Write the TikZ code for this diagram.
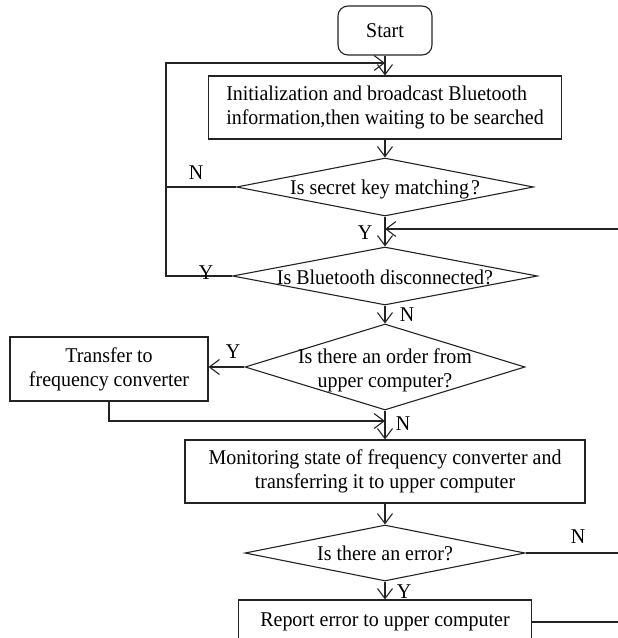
\documentclass[tikz,border=0pt]{standalone}
\usepackage{fontspec}
\setmainfont{Liberation Serif}[FakeStretch=0.95]
\usetikzlibrary{shapes.geometric,arrows.meta}
\definecolor{ln}{RGB}{35,35,35}
\tikzset{
  base/.style={font=\fontsize{21}{24}\selectfont},
  box/.style={base,draw=ln,line width=1.1pt,rectangle,inner sep=0pt,align=center},
  startbox/.style={box,rounded corners=10pt},
  dia/.style={draw=ln,line width=1.1pt,diamond,inner sep=0pt},
  txt/.style={base,align=center,inner sep=0pt},
  lab/.style={base,inner sep=0pt},
  conn/.style={draw=ln,line width=1.1pt},
  arr/.style={conn,-{Straight Barb[length=10pt,width=15pt,line width=1.1pt]}}
}
\begin{document}
\begin{tikzpicture}[x=1pt,y=-1pt]
\useasboundingbox (0,0) rectangle (618,638);
\clip (0,0) rectangle (618,638);
% nodes
\node[startbox,minimum width=94pt,minimum height=49pt] (start) at (385,30.5) {Start};
\node[box,minimum width=353pt,minimum height=63pt,align=left] (init) at (385,107.5) {Initialization and broadcast Bluetooth\\information,then waiting to be searched};
\node[dia,minimum width=297pt,minimum height=58pt] (d1) at (385,187) {};
\node[txt] (t1) at (385,189) {Is secret key matching\kern2pt?};
\node[dia,minimum width=305pt,minimum height=58pt] (d2) at (385,276) {};
\node[txt] (t2) at (385,277) {Is Bluetooth disconnected?};
\node[dia,minimum width=280pt,minimum height=86pt] (d3) at (385,367) {};
\node[txt] (t3) at (385,370) {Is there an order from\\upper computer?};
\node[box,minimum width=198pt,minimum height=64pt] (trans) at (109,369) {Transfer to\\frequency converter};
\node[box,minimum width=400pt,minimum height=63pt] (mon) at (385,471.5) {Monitoring state of frequency converter and\\transferring it to upper computer};
\node[dia,minimum width=280pt,minimum height=56pt] (d4) at (385,553) {};
\node[txt] (t4) at (385,553) {Is there an error?};
\node[box,minimum width=293pt,minimum height=44pt] (rep) at (385,622) {Report error to upper computer};
% coordinates
\coordinate (lx1) at (166,187);
\coordinate (ltop) at (166,63);
\coordinate (ljoin) at (385,63);
\coordinate (rin) at (618,229);
\coordinate (rjoin) at (385,229);
\coordinate (mjoin) at (385,421);
\coordinate (rout1) at (618,553);
\coordinate (rout2) at (618,622);
% connectors
\draw[arr] (start) -- (init);
\draw[arr] (init) -- (d1);
\draw[conn] (d1.west) -- (lx1);
\draw[arr] (d2.west) -| (ltop) -- (ljoin);
\draw[arr] (d1) -- (d2);
\draw[arr] (rin) -- (rjoin);
\draw[arr] (d2) -- (d3);
\draw[arr] (d3.west) -- (d3.west -| trans.east);
\draw[arr] (trans.south) |- (mjoin);
\draw[arr] (d3) -- (mon);
\draw[arr] (mon) -- (d4);
\draw[conn] (d4.east) -- (rout1);
\draw[arr] (d4) -- (rep);
\draw[conn] (rep.east) -- (rout2);
% edge labels
\node[lab] (n1) at (196,173) {N};
\node[lab] (y1) at (365,233) {Y};
\node[lab] (y2) at (206,273) {Y};
\node[lab] (n2) at (407,315) {N};
\node[lab] (y3) at (233,352) {Y};
\node[lab] (n3) at (403,424) {N};
\node[lab] (n4) at (578,537) {N};
\node[lab] (y4) at (404,592) {Y};
\end{tikzpicture}
\end{document}
